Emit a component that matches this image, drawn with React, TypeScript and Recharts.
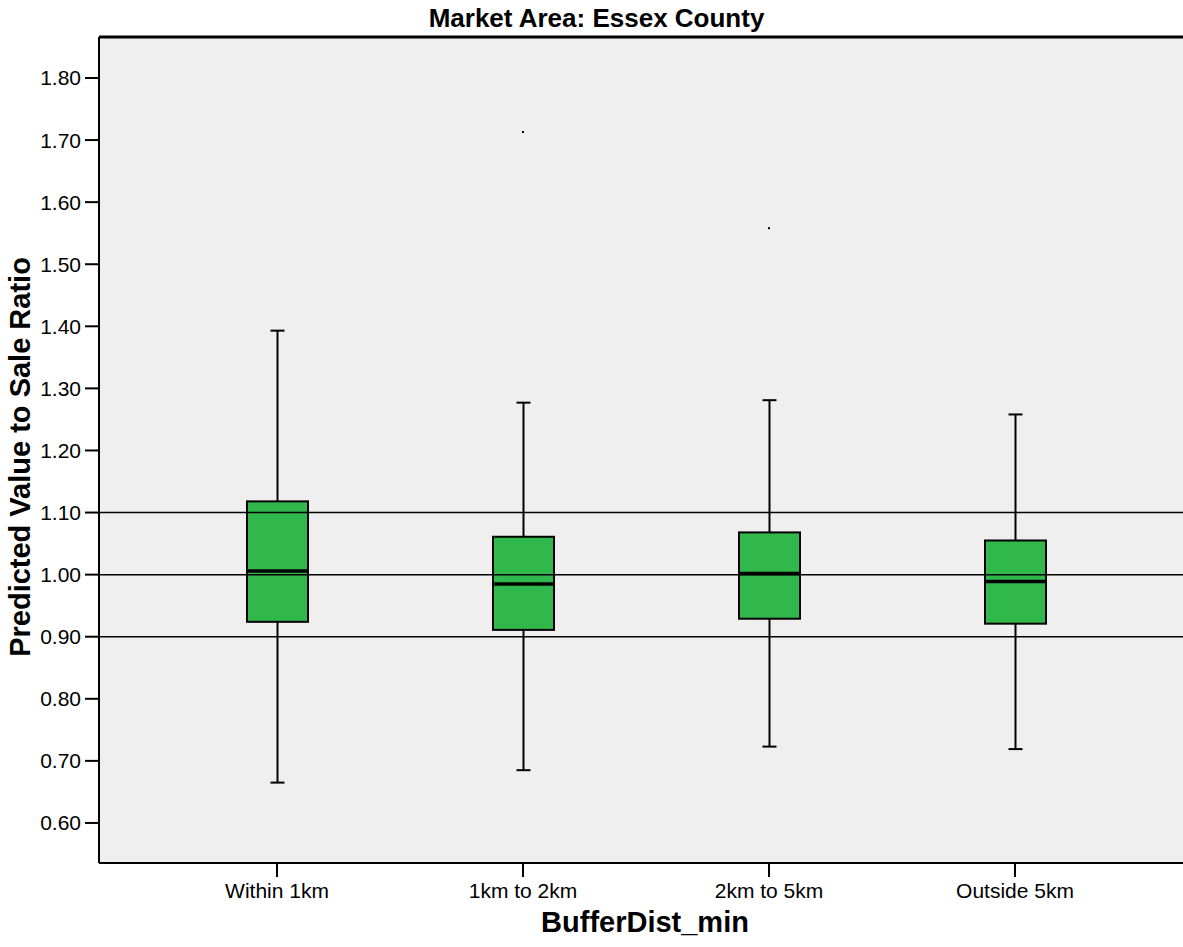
import { ComposedChart, Bar, Scatter, XAxis, YAxis, ReferenceLine, CartesianGrid } from 'recharts'

const categories = ['Within 1km', '1km to 2km', '2km to 5km', 'Outside 5km']
const mins = [0.665, 0.685, 0.723, 0.719]
const q1s = [0.924, 0.911, 0.929, 0.921]
const medians = [1.006, 0.985, 1.002, 0.989]
const q3s = [1.118, 1.061, 1.068, 1.055]
const maxs = [1.393, 1.277, 1.281, 1.258]
// one outlier per category (null = none)
const outlierVals = [null, 1.713, 1.558, null]
const yTicks = [0.6, 0.7, 0.8, 0.9, 1.0, 1.1, 1.2, 1.3, 1.4, 1.5, 1.6, 1.7, 1.8]
const refLines = [0.9, 1.0, 1.1]

const data = categories.map((c, i) => ({
  cat: c, range: [mins[i], maxs[i]], min: mins[i], q1: q1s[i], med: medians[i], q3: q3s[i], max: maxs[i],
  out: outlierVals[i],
}))

const FONT = '"Liberation Sans", Arial, sans-serif'

function BoxShape(props: any) {
  const { x, y, width, height, payload } = props
  const span = payload.max - payload.min
  const py = (v: number) => y + ((payload.max - v) / span) * height
  const cx = x + width / 2
  const cap = 7
  return (
    <g>
      <line x1={cx} x2={cx} y1={py(payload.max)} y2={py(payload.q3)} stroke="#000" strokeWidth={2} />
      <line x1={cx} x2={cx} y1={py(payload.q1)} y2={py(payload.min)} stroke="#000" strokeWidth={2} />
      <line x1={cx - cap} x2={cx + cap} y1={py(payload.max)} y2={py(payload.max)} stroke="#000" strokeWidth={2} />
      <line x1={cx - cap} x2={cx + cap} y1={py(payload.min)} y2={py(payload.min)} stroke="#000" strokeWidth={2} />
      <rect x={x} y={py(payload.q3)} width={width} height={py(payload.q1) - py(payload.q3)} fill="#30b94a" stroke="#000" strokeWidth={2} />
      <line x1={x} x2={x + width} y1={py(payload.med)} y2={py(payload.med)} stroke="#000" strokeWidth={3.5} />
    </g>
  )
}

function Dot(props: any) {
  if (props.payload == null || props.payload.out == null || !isFinite(props.cy)) return <g />
  return <rect x={props.cx - 1} y={props.cy - 1} width={2} height={2} fill="#000" />
}

export default function App() {
  return (
    <div style={{ position: 'absolute', left: 0, top: 0, width: 1183, height: 947, overflow: 'hidden', background: '#fff', fontFamily: FONT }}>
      <div style={{ position: 'absolute', left: 0, width: 1193, top: 3, textAlign: 'center', fontWeight: 'bold', fontSize: 26 }}>Market Area: Essex County</div>
      <div style={{ position: 'absolute', left: 99, width: 1092, top: 906, textAlign: 'center', fontWeight: 'bold', fontSize: 29 }}>BufferDist_min</div>
      <div style={{ position: 'absolute', left: 20, top: 457, width: 0, height: 0 }}>
        <div style={{ position: 'absolute', transform: 'translate(-50%, -50%) rotate(-90deg)', whiteSpace: 'nowrap', fontWeight: 'bold', fontSize: 29 }}>Predicted Value to Sale Ratio</div>
      </div>
      <ComposedChart width={1200} height={947} data={data} margin={{ top: 37, right: 0, bottom: 44, left: 0 }}>
        <CartesianGrid horizontal={false} vertical={false} fill="#efefef" />
        <XAxis dataKey="cat" type="category" padding={{ left: 55, right: 62 }} height={40} tickSize={14} tickMargin={6}
          axisLine={{ stroke: '#000', strokeWidth: 2 }} tickLine={{ stroke: '#000', strokeWidth: 2 }}
          tick={{ fill: '#000', fontSize: 21, fontFamily: FONT }} interval={0} />
        <YAxis type="number" domain={[0.5355, 1.866]} ticks={yTicks} width={99} tickSize={14} tickMargin={4}
          tickFormatter={(v: number) => v.toFixed(2)} allowDataOverflow
          axisLine={{ stroke: '#000', strokeWidth: 2 }} tickLine={{ stroke: '#000', strokeWidth: 2 }}
          tick={{ fill: '#000', fontSize: 21, fontFamily: FONT }} />
        <Bar dataKey="range" barSize={61} shape={<BoxShape />} isAnimationActive={false} />
        <Scatter dataKey="out" shape={<Dot />} isAnimationActive={false} />
        {refLines.map(r => <ReferenceLine key={r} y={r} stroke="#000" strokeWidth={1.5} />)}
        <ReferenceLine y={1.866} stroke="#000" strokeWidth={3} />
      </ComposedChart>
    </div>
  )
}
